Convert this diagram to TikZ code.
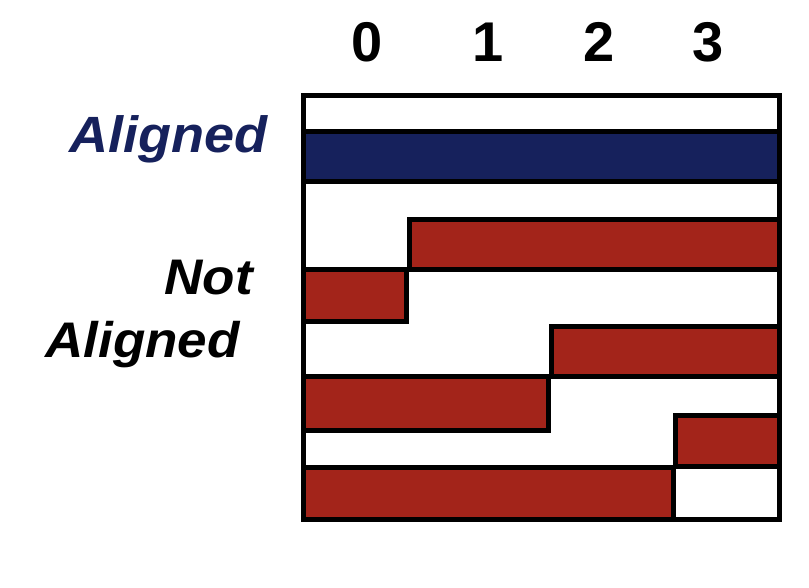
\documentclass[tikz,border=0pt]{standalone}
\usepackage{fontspec}
\setmainfont{Liberation Sans}
\newfontfamily\labfont[FakeStretch=1.06]{Liberation Sans}
\definecolor{navy}{RGB}{22,33,92}
\definecolor{brick}{RGB}{163,36,26}
\begin{document}
\begin{tikzpicture}[x=1pt,y=1pt,
  frame/.style={draw=black,line width=5pt,fill=white},
  bluebar/.style={draw=black,line width=5pt,fill=navy},
  redbar/.style={draw=black,line width=5pt,fill=brick},
  digit/.style={anchor=base,inner sep=0pt,font=\fontsize{56}{66}\selectfont\bfseries},
  lab/.style={anchor=base east,inner sep=0pt,font=\labfont\fontsize{50}{60}\selectfont\bfseries\itshape}]
\useasboundingbox (0,0) rectangle (809,587);
% outer frame
\draw[frame] (303,491) rectangle (779,68);
% aligned access
\draw[bluebar] (303,455) rectangle (779,405.5);
% misaligned accesses
\draw[redbar] (409,367) rectangle (779,317);
\draw[redbar] (303,317) rectangle (406.5,265);
\draw[redbar] (551.5,260) rectangle (779,210);
\draw[redbar] (303,210) rectangle (548,156.5);
\draw[redbar] (675.5,171.5) rectangle (779,121);
\draw[redbar] (303,120) rectangle (673,68);
% column labels
\node[digit] (d0) at (367,525) {0};
\node[digit] (d1) at (488,525) {1};
\node[digit] (d2) at (599,525) {2};
\node[digit] (d3) at (708,525) {3};
% row labels
\node[lab,text=navy,font=\labfont\fontsize{51}{60}\selectfont\bfseries\itshape] (al) at (268,434) {Aligned};
\node[lab] (not) at (253,292) {Not};
\node[lab] (nal) at (240,229) {Aligned};
\end{tikzpicture}
\end{document}
